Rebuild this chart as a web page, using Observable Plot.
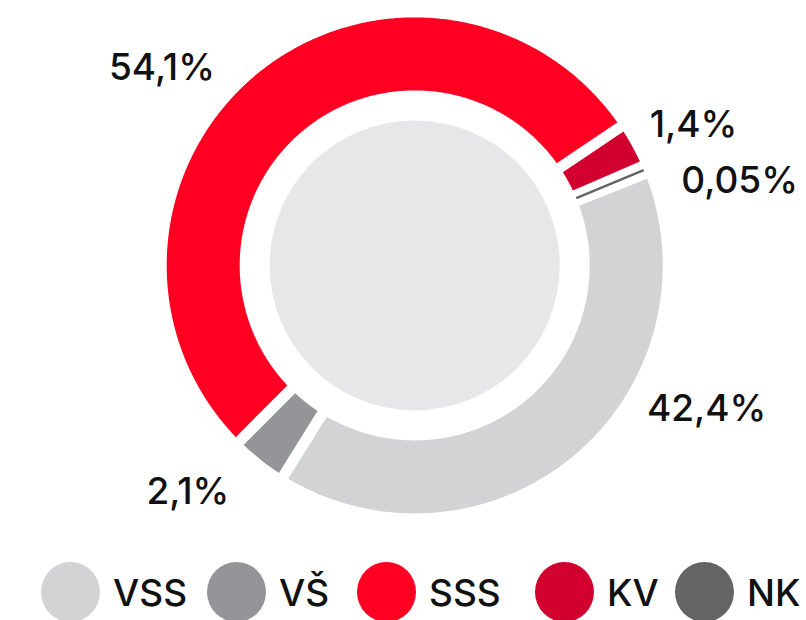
<!DOCTYPE html>
<html><head><meta charset="utf-8">
<script src="https://cdn.jsdelivr.net/npm/d3@7"></script>
<script src="https://cdn.jsdelivr.net/npm/@observablehq/plot@0.6"></script>
<style>
html,body{margin:0;padding:0;background:#fff;width:806px;height:620px;overflow:hidden;font-family:Inter,"Open Sans",sans-serif;}
#chart svg{display:block;}
#legend{position:relative;width:806px;height:64px;}
.item{position:absolute;top:6px;display:flex;align-items:center;white-space:nowrap;}
.sw{width:59px;height:60px;border-radius:50%;flex:none;}
.lab{font-size:37px;font-weight:500;color:#111;margin-left:13px;line-height:1;}
</style></head><body><div id="chart"></div><div id="legend"></div>
<script>
// ---- data ----
const categories = ["VSS", "VŠ", "SSS", "KV", "NK"];
const percentValues = [42.4, 2.1, 54.1, 1.4, 0.05];
const percentLabels = ["42,4%", "2,1%", "54,1%", "1,4%", "0,05%"];
// share of the ring each slice occupies in the drawing (%)
const arcShare = [39.9, 3.6, 53.1, 2.9, 0.5];

// ---- styles / layout ----
const colors = ["#d1d3d4", "#939598", "#ff0022", "#d1002f", "#636466"];
const W = 806, H = 556, cx = 414.2, cy = 264.9;
const R = 248, r0 = 175, holeR = 145, halfGap = 5.5, startDeg = 68.3;
const labelNudge = {VSS: [124, -57], "VŠ": [-64, 21], SSS: [-86, 5], KV: [49, -14], NK: [83, 16]};

const rad = d => d * Math.PI / 180;
const total = d3.sum(arcShare);
let acc = rad(startDeg);
const slices = categories.map((key, i) => {
  const a0 = acc, a1 = acc + 2 * Math.PI * arcShare[i] / total;
  acc = a1;
  return {key, value: percentValues[i], label: percentLabels[i], a0, a1, mid: (a0 + a1) / 2};
});

const polyPts = [];
const thinSlices = [];
for (const s of slices) {
  const o0 = s.a0 + Math.asin(halfGap / R), o1 = s.a1 - Math.asin(halfGap / R);
  const i0 = s.a0 + Math.asin(halfGap / r0), i1 = s.a1 - Math.asin(halfGap / r0);
  if (o1 <= o0 || i1 <= i0) { thinSlices.push(s); continue; }
  const pts = [];
  const n = Math.max(6, Math.ceil((o1 - o0) / 0.008));
  for (let k = 0; k <= n; k++) { const a = o0 + (o1 - o0) * k / n; pts.push({key: s.key, x: R * Math.sin(a), y: R * Math.cos(a)}); }
  const m = Math.max(6, Math.ceil((i1 - i0) / 0.008));
  for (let k = 0; k <= m; k++) { const a = i1 - (i1 - i0) * k / m; pts.push({key: s.key, x: r0 * Math.sin(a), y: r0 * Math.cos(a)}); }
  pts.push({...pts[0]});
  polyPts.push(...pts);
}

const marks = [
  Plot.line(polyPts, {x: "x", y: "y", z: "key", fill: "key", stroke: "none", curve: "linear"}),
  Plot.link(thinSlices, {
    x1: d => r0 * Math.sin(d.mid), y1: d => r0 * Math.cos(d.mid),
    x2: d => R * Math.sin(d.mid), y2: d => R * Math.cos(d.mid),
    stroke: "key", strokeWidth: 2.5
  }),
  Plot.dot([{x: 0, y: 0}], {x: "x", y: "y", r: holeR, fill: "#e6e7e8", stroke: "none"})
];
const labelR = R + 14;
for (const s of slices) {
  const [dx, dy] = labelNudge[s.key];
  marks.push(Plot.text([s], {
    x: d => labelR * Math.sin(d.mid), y: d => labelR * Math.cos(d.mid),
    text: "label", dx, dy, textAnchor: "middle", fill: "#111",
    fontSize: 37, fontWeight: 500, fontFamily: "Inter, 'Open Sans', sans-serif"
  }));
}

const chart = Plot.plot({
  width: W, height: H, margin: 0,
  x: {domain: [-cx, W - cx], range: [0, W], axis: null},
  y: {domain: [-(H - cy), cy], range: [H, 0], axis: null},
  color: {domain: categories, range: colors},
  style: {background: "transparent", overflow: "visible"},
  marks
});
document.getElementById("chart").append(chart);

// legend
const legendLeft = [41, 207, 357, 535, 675];
const legend = document.getElementById("legend");
categories.forEach((c, i) => {
  const it = document.createElement("div");
  it.className = "item";
  it.style.left = legendLeft[i] + "px";
  const sw = document.createElement("div");
  sw.className = "sw"; sw.style.background = colors[i];
  const lab = document.createElement("span");
  lab.className = "lab"; lab.textContent = c;
  it.append(sw, lab);
  legend.append(it);
});
</script></body></html>
